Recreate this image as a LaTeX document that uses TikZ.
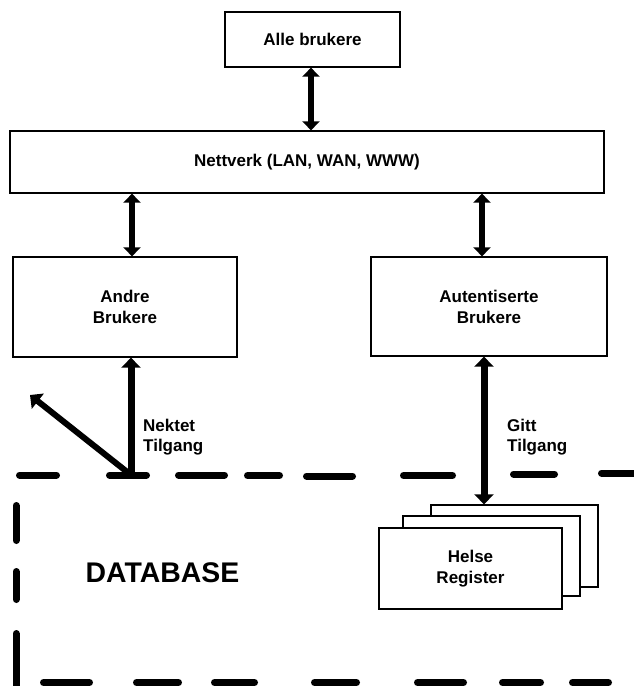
\documentclass[tikz,border=0pt]{standalone}
\usepackage{fontspec}
\setmainfont{Liberation Sans}
\usetikzlibrary{arrows.meta}

\tikzset{
  box/.style={draw=black, line width=1.3pt, fill=white, inner sep=0pt,
    align=center, font=\fontsize{17}{21}\selectfont\bfseries},
  lbl/.style={inner sep=0pt, align=left, anchor=west,
    font=\fontsize{17}{20}\selectfont\bfseries},
  link/.style={line width=5.5pt, {Triangle[width=17pt,length=9pt]}-{Triangle[width=17pt,length=9pt]}},
  heavy/.style={line width=7pt},
  tip/.style={-{Triangle[width=19pt,length=10pt]}},
  bothtips/.style={{Triangle[width=19pt,length=10pt]}-{Triangle[width=19pt,length=10pt]}},
  dashseg/.style={line width=7pt, line cap=round},
}

\begin{document}
\begin{tikzpicture}[x=1pt, y=-1pt]
  \useasboundingbox (0,0) rectangle (633,686);

  % users and network
  \node[box, minimum width=175pt, minimum height=55pt] (alle) at (312.5,39.5) {Alle brukere};
  \node[box, minimum width=594pt, minimum height=62pt] (net) at (307,162) {Nettverk (LAN, WAN, WWW)};
  \node[box, minimum width=224pt, minimum height=100pt] (andre) at (125,307) {Andre\\Brukere};
  \node[box, minimum width=236pt, minimum height=99pt] (aut) at (489,306.5) {Autentiserte\\Brukere};

  % stack of health registers
  \node[box, minimum width=167pt, minimum height=82pt] (reg3) at (514.5,546) {};
  \node[box, minimum width=177pt, minimum height=80pt] (reg2) at (491.5,556) {};
  \node[box, minimum width=183pt, minimum height=81pt] (reg1) at (470.5,568.5) {Helse\\Register};

  \node[inner sep=0pt, font=\fontsize{28.4}{30}\selectfont\bfseries] (db) at (162.5,573) {DATABASE};

  % connections between users and network
  \draw[link] ([xshift=-1.5pt]alle.south) -- ([xshift=-1.5pt]alle.south |- net.north);
  \draw[link, line width=6pt] ([xshift=7pt]andre.north |- net.south) -- ([xshift=7pt]andre.north);
  \draw[link, line width=6pt] ([xshift=-7pt]aut.north |- net.south) -- ([xshift=-7pt]aut.north);

  % access to the database
  \coordinate (deny) at (131,475);
  \coordinate (away) at (30,395);
  \draw[heavy, tip] (deny) -- ([xshift=6pt]andre.south);
  \draw[line width=6pt, tip] (deny) -- (away);
  \draw[heavy, bothtips] ([xshift=-5pt]aut.south) -- ([xshift=-5pt]aut.south |- reg3.north);

  \node[lbl] (nektet) at (143,437) {Nektet\\Tilgang};
  \node[lbl] (gitt) at (507,437) {Gitt\\Tilgang};

  % dashed database boundary
  \foreach \a/\b/\y in {16/60/475, 106/150/475, 175/228/475, 244/283/475.5,
                       303/356/476, 400/456/475.5, 510/558/474, 598/640/473}
    \draw[dashseg] (\a+3.5,\y) -- (\b-3.5,\y);
  \foreach \a/\b in {40/93, 133/182, 211/258, 311/360, 414/467, 499/544, 569/612}
    \draw[dashseg] (\a+3.5,682.5) -- (\b-3.5,682.5);
  \foreach \a/\b in {502/544, 568/603, 630/692}
    \draw[dashseg] (16,\a+3.5) -- (16,\b-3.5);
\end{tikzpicture}
\end{document}
